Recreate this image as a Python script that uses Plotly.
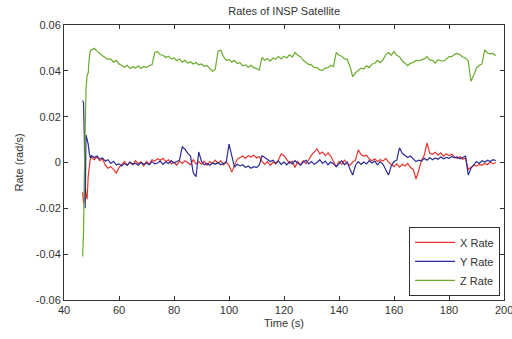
import plotly.graph_objects as go

# transient start-up samples
t_start = [46.8, 47.1, 47.4, 47.7, 48.0, 48.4, 48.8, 49.2, 49.6]
x_start = [-0.013, -0.018, -0.015, -0.010, -0.014, -0.016, -0.006, 0.000, 0.002]
y_start = [0.027, 0.026, 0.010, -0.020, 0.012, 0.010, 0.008, 0.004, 0.002]
z_start = [-0.041, -0.030, -0.005, 0.020, 0.032, 0.038, 0.039, 0.046, 0.049]

# 1-second samples from t = 50 to 197
t_main = list(range(50, 198))

x_main = [
    0.0022, 0.0012, 0.0025, 0.0008, 0.0015, -0.0012, -0.0025, -0.0018, -0.0030, -0.0046,
    -0.0022, -0.0008, 0.0005, -0.0012, 0.0002, -0.0010, 0.0008, -0.0005, 0.0003, -0.0015,
    0.0004, -0.0008, 0.0012, 0.0006, 0.0016, 0.0010, 0.0018, 0.0004, 0.0012, -0.0006,
    0.0002, -0.0012, 0.0006, -0.0004, 0.0008, 0.0000, -0.0010, 0.0012, -0.0006, 0.0004,
    -0.0008, 0.0006, -0.0012, 0.0004, -0.0005, 0.0010, -0.0003, 0.0008, -0.0010, 0.0002,
    -0.0012, -0.0042, -0.0010, 0.0015, 0.0022, 0.0028, 0.0018, 0.0030, 0.0024, 0.0032,
    0.0020, 0.0026, 0.0005, -0.0008, 0.0004, -0.0012, 0.0002, -0.0006, 0.0012, 0.0038,
    0.0030, 0.0012, -0.0004, 0.0006, -0.0022, 0.0004, -0.0010, 0.0008, -0.0005, 0.0012,
    0.0032, 0.0045, 0.0060, 0.0038, 0.0046, 0.0030, 0.0042, 0.0028, 0.0005, -0.0020,
    0.0004, -0.0008, 0.0010, -0.0004, -0.0012, 0.0002, 0.0010, 0.0055, 0.0035, 0.0028,
    0.0032, 0.0015, 0.0008, 0.0016, 0.0004, 0.0012, 0.0006, 0.0018, 0.0002, -0.0010,
    -0.0018, -0.0006, -0.0020, -0.0008, -0.0015, -0.0004, -0.0022, -0.0030, -0.0072, -0.0035,
    0.0010, 0.0032, 0.0085, 0.0040, 0.0036, 0.0045, 0.0032, 0.0042, 0.0028, 0.0038,
    0.0030, 0.0036, 0.0024, 0.0018, 0.0026, 0.0014, 0.0020, -0.0030, -0.0022, -0.0012,
    -0.0016, -0.0008, -0.0012, -0.0004, -0.0010, 0.0002, -0.0006, 0.0000,
]

y_main = [
    0.0030, 0.0022, 0.0028, 0.0015, 0.0020, 0.0006, 0.0012, -0.0004, 0.0005, -0.0010,
    -0.0006, -0.0015, -0.0004, -0.0012, 0.0002, -0.0008, -0.0003, -0.0012, 0.0000, -0.0008,
    -0.0002, -0.0010, 0.0004, -0.0006, -0.0002, 0.0006, -0.0008, 0.0002, -0.0004, 0.0008,
    -0.0002, 0.0004, 0.0010, 0.0068, 0.0058, 0.0040, 0.0028, -0.0045, -0.0062, 0.0046,
    0.0005, -0.0010, -0.0004, -0.0012, -0.0002, -0.0008, 0.0000, -0.0010, -0.0004, 0.0002,
    0.0080, 0.0030, -0.0020, -0.0008, -0.0015, -0.0010, -0.0022, -0.0015, -0.0025, -0.0018,
    -0.0022, -0.0012, 0.0030, 0.0022, 0.0012, 0.0004, 0.0010, -0.0004, 0.0006, -0.0008,
    0.0002, -0.0010, 0.0004, -0.0006, 0.0008, -0.0004, -0.0012, 0.0002, 0.0010, -0.0006,
    0.0004, -0.0008, 0.0000, 0.0012, -0.0004, 0.0006, -0.0010, 0.0002, -0.0006, -0.0018,
    -0.0004, 0.0008, -0.0010, 0.0002, -0.0030, -0.0055, -0.0012, 0.0004, -0.0008, 0.0002,
    -0.0006, 0.0008, -0.0002, 0.0006, -0.0010, 0.0004, -0.0008, -0.0030, -0.0055, -0.0015,
    0.0004, 0.0010, 0.0064, 0.0040, 0.0032, 0.0022, 0.0028, 0.0015, 0.0004, 0.0010,
    0.0006, 0.0018, 0.0010, 0.0022, 0.0012, 0.0020, 0.0014, 0.0024, 0.0016, 0.0022,
    0.0018, 0.0026, 0.0020, 0.0024, 0.0016, 0.0022, 0.0028, -0.0055, -0.0025, -0.0010,
    0.0004, -0.0004, 0.0008, 0.0002, 0.0010, 0.0004, 0.0012, 0.0008,
]

z_main = [
    0.0490, 0.0498, 0.0486, 0.0474, 0.0466, 0.0458, 0.0450, 0.0452, 0.0438, 0.0446,
    0.0430, 0.0424, 0.0416, 0.0424, 0.0410, 0.0418, 0.0412, 0.0422, 0.0410, 0.0419,
    0.0414, 0.0422, 0.0426, 0.0480, 0.0484, 0.0470, 0.0468, 0.0458, 0.0464, 0.0452,
    0.0456, 0.0444, 0.0452, 0.0438, 0.0446, 0.0434, 0.0440, 0.0430, 0.0436, 0.0426,
    0.0430, 0.0420, 0.0424, 0.0410, 0.0398, 0.0406, 0.0486, 0.0490, 0.0462, 0.0446,
    0.0450, 0.0438, 0.0446, 0.0432, 0.0436, 0.0422, 0.0426, 0.0416, 0.0424, 0.0414,
    0.0408, 0.0404, 0.0458, 0.0446, 0.0454, 0.0442, 0.0456, 0.0450, 0.0462, 0.0452,
    0.0464, 0.0456, 0.0470, 0.0460, 0.0480, 0.0468, 0.0462, 0.0446, 0.0436, 0.0428,
    0.0426, 0.0414, 0.0414, 0.0404, 0.0402, 0.0412, 0.0414, 0.0424, 0.0418, 0.0480,
    0.0468, 0.0464, 0.0452, 0.0450, 0.0418, 0.0374, 0.0392, 0.0402, 0.0412, 0.0408,
    0.0422, 0.0414, 0.0430, 0.0432, 0.0446, 0.0436, 0.0448, 0.0470, 0.0480, 0.0468,
    0.0484, 0.0468, 0.0462, 0.0444, 0.0434, 0.0422, 0.0434, 0.0436, 0.0446, 0.0444,
    0.0448, 0.0452, 0.0462, 0.0448, 0.0446, 0.0434, 0.0448, 0.0444, 0.0442, 0.0450,
    0.0462, 0.0462, 0.0472, 0.0476, 0.0470, 0.0460, 0.0456, 0.0442, 0.0355, 0.0382,
    0.0412, 0.0424, 0.0430, 0.0492, 0.0478, 0.0474, 0.0476, 0.0466,
]

x_ticks = [40, 60, 80, 100, 120, 140, 160, 180, 200]
y_ticks = [-0.06, -0.04, -0.02, 0, 0.02, 0.04, 0.06]
y_tick_labels = ["-0.06", "-0.04", "-0.02", "0", "0.02", "0.04", "0.06"]

time = t_start + t_main
x_rate = x_start + x_main
y_rate = y_start + y_main
z_rate = z_start + z_main

FONT = "Liberation Sans, Arial, sans-serif"
TXT = "#333333"

fig = go.Figure()
fig.add_trace(go.Scatter(x=time, y=x_rate, mode="lines", name="X Rate",
                         line=dict(color="#e8332c", width=1.2)))
fig.add_trace(go.Scatter(x=time, y=y_rate, mode="lines", name="Y Rate",
                         line=dict(color="#2b2b96", width=1.2)))
fig.add_trace(go.Scatter(x=time, y=z_rate, mode="lines", name="Z Rate",
                         line=dict(color="#6aaa2c", width=1.2)))

axis_common = dict(
    showgrid=False, zeroline=False, showline=True, linecolor=TXT, linewidth=1,
    mirror="ticks", ticks="inside", ticklen=4, tickcolor=TXT,
    tickfont=dict(family=FONT, size=11, color=TXT),
)

# last x tick label sits past the page edge; place it as an annotation so it is drawn (clipped) like the original
x_tick_text = [str(v) for v in x_ticks[:-1]] + [""]

fig.update_layout(
    width=512, height=339,
    margin=dict(l=64, r=8, t=25, b=39),
    paper_bgcolor="white", plot_bgcolor="white",
    title=dict(text="Rates of INSP Satellite", x=0.555, xanchor="center",
               y=0.968, yanchor="middle",
               font=dict(family=FONT, size=11, color=TXT)),
    xaxis=dict(range=[40, 200], tickmode="array", tickvals=x_ticks,
               ticktext=x_tick_text,
               title=dict(text="Time (s)", standoff=4,
                          font=dict(family=FONT, size=11, color=TXT)),
               **axis_common),
    yaxis=dict(range=[-0.06, 0.06], tickvals=y_ticks, ticktext=y_tick_labels,
               title=dict(text="Rate (rad/s)", standoff=9,
                          font=dict(family=FONT, size=11, color=TXT)),
               **axis_common),
    legend=dict(x=0.991, y=0.015, xanchor="right", yanchor="bottom",
                bgcolor="white", bordercolor=TXT, borderwidth=1,
                font=dict(family=FONT, size=11, color=TXT),
                tracegroupgap=0, itemwidth=40),
    showlegend=True,
    annotations=[dict(x=x_ticks[-1], xref="x", y=0, yref="paper",
                      text=str(x_ticks[-1]), showarrow=False,
                      xanchor="center", yanchor="top", yshift=-2,
                      font=dict(family=FONT, size=11, color=TXT))],
)

fig.write_html("out.html")
